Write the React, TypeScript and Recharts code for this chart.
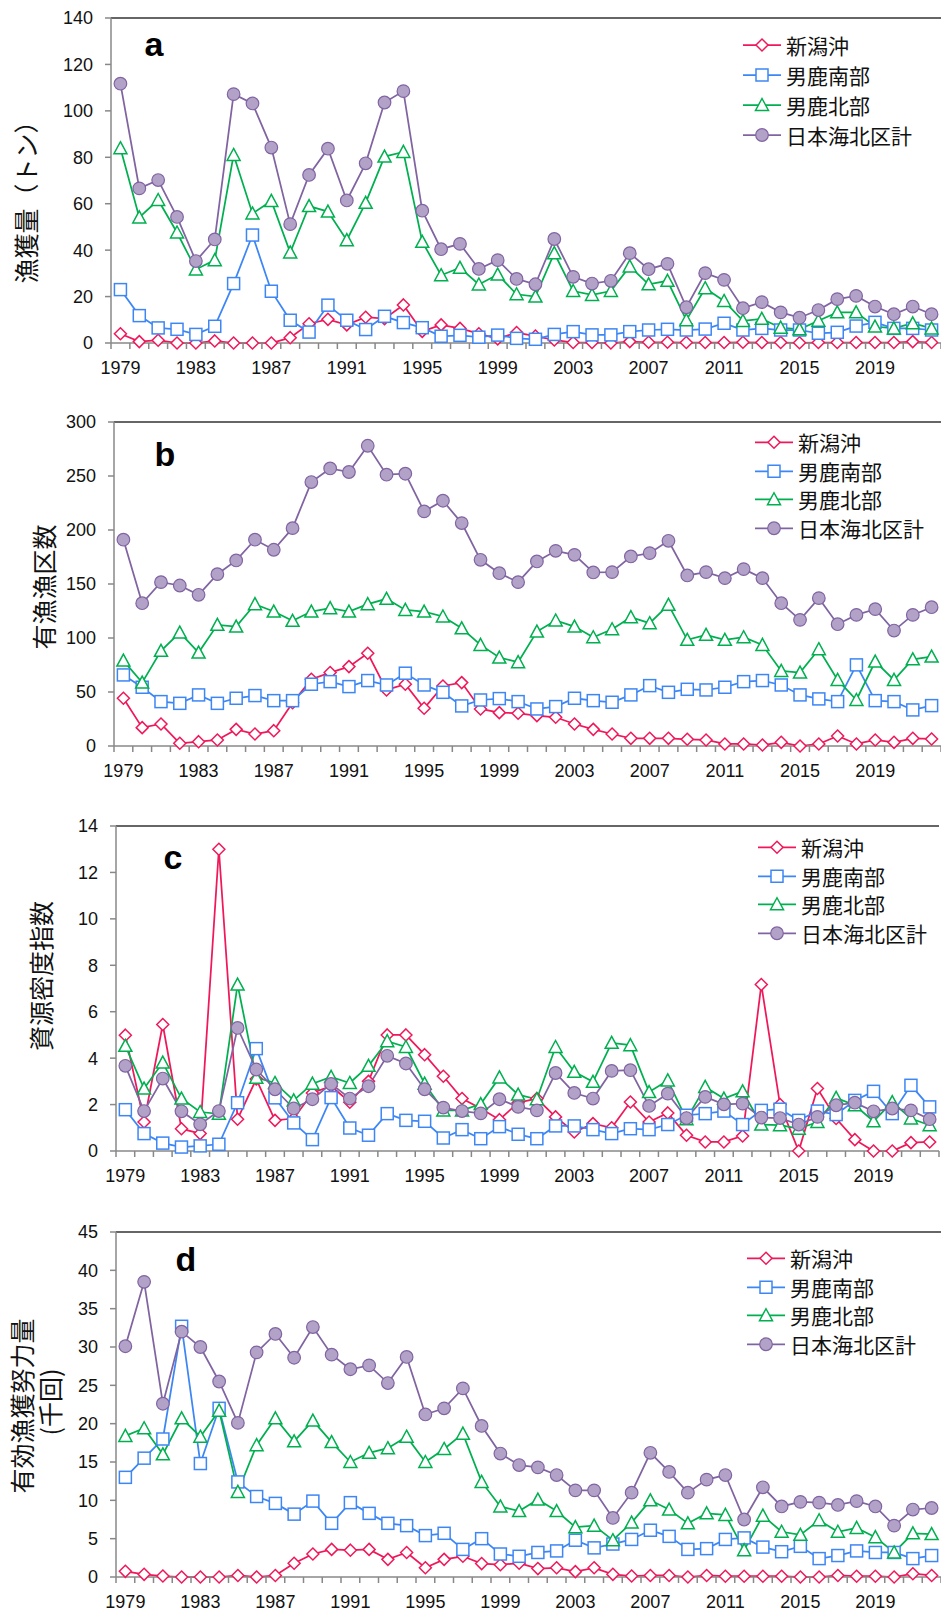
import React from "react";
import { LineChart, Line, XAxis, YAxis, Legend, ReferenceLine } from "recharts";

const YEARS = [
  1979, 1980, 1981, 1982, 1983, 1984, 1985, 1986, 1987, 1988, 1989,
  1990, 1991, 1992, 1993, 1994, 1995, 1996, 1997, 1998, 1999, 2000,
  2001, 2002, 2003, 2004, 2005, 2006, 2007, 2008, 2009, 2010, 2011,
  2012, 2013, 2014, 2015, 2016, 2017, 2018, 2019, 2020, 2021, 2022,
];

// a: 漁獲量（トン）
const catchNiigata = [4.0, 0.6, 1.2, 0, 0, 0.9, 0, 0, 0, 2.3, 8.3, 10.2, 7.8, 11.1, 10.5, 16.4, 5.0, 7.8, 6.3, 4.0, 1.8, 4.5, 3.0, 1.3, 0.2, 0.2, 0, 0.6, 0.3, 0.3, 0.2, 0.2, 0.2, 0.3, 0.2, 0.2, 0.1, 0.2, 0.2, 0.2, 0.2, 0.2, 0.6, 0.2];
const catchOgaSouth = [23.0, 11.8, 6.5, 5.9, 3.7, 7.2, 25.6, 46.5, 22.3, 9.8, 4.7, 16.3, 9.8, 5.8, 11.5, 8.8, 6.6, 2.9, 3.3, 2.5, 3.4, 2.0, 1.6, 3.7, 4.9, 3.5, 3.5, 4.9, 5.6, 5.9, 5.6, 6.0, 8.5, 5.6, 6.3, 5.6, 5.6, 4.2, 4.6, 7.3, 8.9, 6.3, 6.3, 5.6];
const catchOgaNorth = [83.9, 54.1, 61.6, 47.6, 31.7, 35.7, 81.0, 55.8, 61.2, 39.0, 59.0, 56.6, 44.3, 60.4, 80.3, 82.3, 43.6, 29.2, 32.4, 25.2, 29.5, 21.0, 20.0, 38.7, 22.4, 20.7, 22.4, 33.0, 25.3, 26.8, 9.8, 23.6, 18.1, 9.5, 10.4, 6.6, 5.9, 9.6, 13.2, 13.2, 7.1, 6.3, 8.5, 6.3];
const catchTotal = [111.7, 66.6, 70.2, 54.3, 35.3, 44.6, 107.2, 103.2, 84.2, 51.2, 72.4, 83.7, 61.4, 77.4, 103.6, 108.5, 57.0, 40.4, 42.7, 31.9, 35.7, 27.6, 25.3, 44.8, 28.5, 25.6, 26.8, 38.7, 31.8, 34.1, 15.4, 30.1, 27.2, 15.0, 17.6, 13.2, 10.9, 14.2, 18.9, 20.3, 15.7, 12.4, 15.7, 12.4];

// b: 有漁漁区数
const gridNiigata = [44.2, 17.0, 20.4, 2.5, 4.0, 5.6, 15.4, 11.1, 14.2, 40.0, 61.8, 68.0, 73.5, 85.9, 51.9, 57.2, 34.9, 55.6, 58.7, 34.3, 30.9, 30.3, 28.1, 26.6, 20.4, 15.4, 11.1, 7.1, 7.1, 7.1, 6.2, 5.6, 1.9, 1.9, 0.9, 3.4, 0.0, 1.9, 9.3, 1.9, 5.6, 3.4, 7.1, 6.5];
const gridOgaSouth = [65.8, 54.4, 41.1, 39.5, 47.3, 39.5, 44.2, 46.7, 42.0, 42.0, 57.2, 59.6, 55.0, 60.6, 56.5, 67.4, 56.5, 49.7, 37.1, 42.6, 43.9, 41.1, 34.3, 36.5, 44.2, 42.0, 40.5, 47.3, 55.9, 49.7, 52.5, 51.9, 54.4, 59.6, 60.6, 56.5, 47.3, 43.6, 41.1, 75.1, 42.0, 41.1, 33.4, 37.4];
const gridOgaNorth = [79.1, 58.7, 88.1, 105.0, 86.5, 112.2, 110.6, 131.3, 124.5, 115.9, 124.5, 127.6, 124.5, 131.3, 136.3, 126.0, 124.5, 119.9, 109.0, 93.6, 81.9, 77.6, 106.0, 116.2, 110.6, 100.7, 108.1, 119.3, 113.7, 130.7, 98.3, 102.9, 98.3, 100.7, 93.6, 69.5, 68.0, 89.6, 61.2, 42.6, 78.2, 61.2, 80.3, 82.8];
const gridTotal = [191, 132.2, 151.7, 148.6, 140, 159.1, 171.8, 191, 181.7, 201.7, 244.4, 257, 253.7, 278, 251.2, 252.1, 217.2, 227.1, 206.4, 172.4, 160, 151.7, 170.9, 180.7, 177, 160.7, 161, 175.5, 178.6, 190, 157.9, 161, 155.4, 163.8, 155.4, 132.2, 116.8, 136.9, 112.8, 121.4, 126.7, 106.9, 121.4, 128.5];

// c: 資源密度指数
const densNiigata = [4.99, 1.25, 5.45, 0.96, 0.75, 13.0, 1.37, 3.1, 1.32, 1.4, 2.5, 2.8, 2.1, 3.0, 5.0, 5.0, 4.15, 3.22, 2.26, 1.83, 1.35, 2.08, 2.26, 1.47, 0.82, 1.18, 1.0, 2.11, 1.25, 1.64, 0.68, 0.39, 0.39, 0.65, 7.17, 2.0, 0.0, 2.69, 1.4, 0.49, 0.0, 0.0, 0.36, 0.39];
const densOgaSouth = [1.78, 0.75, 0.34, 0.17, 0.22, 0.29, 2.08, 4.41, 2.29, 1.21, 0.49, 2.3, 0.99, 0.68, 1.61, 1.32, 1.28, 0.56, 0.92, 0.53, 1.05, 0.72, 0.53, 1.08, 1.08, 0.92, 0.75, 0.96, 0.92, 1.14, 1.54, 1.61, 1.72, 1.14, 1.75, 1.8, 1.32, 1.72, 1.57, 2.18, 2.57, 1.61, 2.83, 1.9];
const densOgaNorth = [4.53, 2.69, 3.81, 2.26, 1.68, 1.6, 7.17, 3.16, 2.93, 2.18, 2.9, 3.19, 2.93, 3.67, 4.73, 4.48, 2.9, 1.75, 1.75, 2.02, 3.17, 2.43, 2.23, 4.48, 3.41, 2.98, 4.66, 4.56, 2.54, 3.04, 1.37, 2.76, 2.26, 2.57, 1.14, 1.11, 0.96, 1.25, 2.29, 1.97, 1.28, 2.11, 1.4, 1.11];
const densTotal = [3.67, 1.72, 3.12, 1.71, 1.15, 1.72, 5.3, 3.51, 2.66, 1.83, 2.23, 2.89, 2.26, 2.79, 4.1, 3.77, 2.66, 1.87, 1.72, 1.62, 2.23, 1.9, 1.75, 3.36, 2.5, 2.26, 3.45, 3.48, 1.94, 2.47, 1.42, 2.33, 2.01, 2.04, 1.44, 1.42, 1.14, 1.47, 1.97, 2.08, 1.71, 1.83, 1.75, 1.37];

// d: 有効漁獲努力量（千回）
const effNiigata = [0.74, 0.35, 0.13, 0, 0, 0, 0.2, 0, 0.2, 1.8, 3.0, 3.6, 3.5, 3.6, 2.3, 3.2, 1.2, 2.3, 2.7, 1.75, 1.6, 1.8, 1.1, 1.2, 0.7, 1.2, 0.35, 0.13, 0.2, 0.2, 0.0, 0.2, 0.1, 0.1, 0.1, 0.1, 0.0, 0.0, 0.2, 0.1, 0.1, 0.0, 0.43, 0.2];
const effOgaSouth = [13.0, 15.5, 18.0, 32.7, 14.8, 22.0, 12.4, 10.5, 9.6, 8.2, 9.9, 7.0, 9.7, 8.3, 7.0, 6.7, 5.4, 5.7, 3.6, 5.0, 3.0, 2.7, 3.2, 3.4, 4.8, 3.8, 4.3, 4.9, 6.1, 5.3, 3.6, 3.7, 4.9, 5.1, 3.9, 3.3, 4.0, 2.4, 2.8, 3.4, 3.2, 3.2, 2.4, 2.8];
const effOgaNorth = [18.4, 19.4, 16.0, 20.7, 18.3, 21.7, 11.1, 17.2, 20.7, 17.7, 20.4, 17.6, 15.0, 16.2, 16.8, 18.3, 15.0, 16.7, 18.7, 12.4, 9.2, 8.6, 10.1, 8.6, 6.5, 6.7, 4.8, 7.1, 10.0, 8.8, 7.0, 8.3, 8.1, 3.5, 8.0, 5.9, 5.5, 7.4, 5.9, 6.4, 5.2, 3.2, 5.7, 5.6];
const effTotal = [30.1, 38.5, 22.6, 32.0, 30.0, 25.5, 20.1, 29.3, 31.7, 28.6, 32.6, 29.0, 27.1, 27.6, 25.3, 28.7, 21.2, 22.0, 24.6, 19.7, 16.1, 14.6, 14.3, 13.3, 11.3, 11.3, 7.7, 11.0, 16.2, 13.7, 11.0, 12.7, 13.3, 7.5, 11.7, 9.2, 9.8, 9.7, 9.4, 9.9, 9.2, 6.7, 8.8, 9.0];

const SERIES = [
  { key: "niigata", name: "新潟沖", color: "#f0185a", shape: "diamond" },
  { key: "ogaSouth", name: "男鹿南部", color: "#3d86f5", shape: "square" },
  { key: "ogaNorth", name: "男鹿北部", color: "#00b050", shape: "triangle" },
  { key: "total", name: "日本海北区計", color: "#8064a2", shape: "circle" },
];

const LATIN = '"Liberation Sans", Arial, sans-serif';
const CJK = '"Noto Sans CJK JP", "Noto Sans CJK SC", sans-serif';
const AXIS = "#888888";

const rows = (n: number[], s: number[], no: number[], t: number[]) =>
  YEARS.map((year, i) => ({ year, niigata: n[i], ogaSouth: s[i], ogaNorth: no[i], total: t[i] }));

const Marker = ({ shape, cx, cy, color }: any) => {
  if (shape === "diamond")
    return <path d={`M${cx},${cy - 6}L${cx + 6},${cy}L${cx},${cy + 6}L${cx - 6},${cy}Z`} fill="#fff" stroke={color} strokeWidth={1.5} />;
  if (shape === "square")
    return <rect x={cx - 6} y={cy - 6} width={12} height={12} fill="#fff" stroke={color} strokeWidth={1.5} />;
  if (shape === "triangle")
    return <path d={`M${cx},${cy - 6.5}L${cx + 6.5},${cy + 5.5}L${cx - 6.5},${cy + 5.5}Z`} fill="#fff" stroke={color} strokeWidth={1.5} />;
  return <circle cx={cx} cy={cy} r={6.3} fill="#b3a2c7" stroke={color} strokeWidth={1.2} />;
};

const makeYearTick = (band: number) => (props: any) => {
  const { x, y, payload } = props;
  const i = props.index ?? payload.index;
  return (
    <g>
      <line x1={x - band / 2} y1={y} x2={x - band / 2} y2={y + 6} stroke={AXIS} strokeWidth={1.5} />
      {i === YEARS.length - 1 && <line x1={x + band / 2} y1={y} x2={x + band / 2} y2={y + 6} stroke={AXIS} strokeWidth={1.5} />}
      {i % 4 === 0 && (
        <text x={x} y={y + 18} dy="0.71em" textAnchor="middle" fontSize={18} fontFamily={LATIN} fill="#111">
          {payload.value}
        </text>
      )}
    </g>
  );
};

const LegendContent = ({ row }: any) => (
  <div>
    {SERIES.map((s) => (
      <div key={s.key} style={{ display: "flex", alignItems: "center", height: row }}>
        <svg width={38} height={row}>
          <line x1={0} y1={row / 2} x2={38} y2={row / 2} stroke={s.color} strokeWidth={1.75} />
          <Marker shape={s.shape} cx={19} cy={row / 2} color={s.color} />
        </svg>
        <span style={{ marginLeft: 5, fontSize: 21, fontFamily: CJK, lineHeight: `${row}px`, color: "#111", whiteSpace: "nowrap" }}>{s.name}</span>
      </div>
    ))}
  </div>
);

const PANELS = [
  {
    id: "a", top: 0, height: 400, mt: 18, mb: 27, yw: 111, mr: 0, max: 140,
    ticks: [0, 20, 40, 60, 80, 100, 120, 140],
    data: rows(catchNiigata, catchOgaSouth, catchOgaNorth, catchTotal),
    letter: [154, 44], legend: [743, 30, 30],
    titles: [{ text: "漁獲量（トン）", x: 25, y: 196 }],
  },
  {
    id: "b", top: 400, height: 400, mt: 22, mb: 24, yw: 114, mr: 0, max: 300,
    ticks: [0, 50, 100, 150, 200, 250, 300],
    data: rows(gridNiigata, gridOgaSouth, gridOgaNorth, gridTotal),
    letter: [165, 54], legend: [755, 28, 28.5],
    titles: [{ text: "有漁漁区数", x: 43, y: 187 }],
  },
  {
    id: "c", top: 800, height: 400, mt: 26, mb: 19, yw: 116, mr: 2, max: 14,
    ticks: [0, 2, 4, 6, 8, 10, 12, 14],
    data: rows(densNiigata, densOgaSouth, densOgaNorth, densTotal),
    letter: [173, 57], legend: [758, 33, 28.5],
    titles: [{ text: "資源密度指数", x: 40, y: 176 }],
  },
  {
    id: "d", top: 1200, height: 413, mt: 32, mb: 6, yw: 116, mr: 0, max: 45,
    ticks: [0, 5, 10, 15, 20, 25, 30, 35, 40, 45],
    data: rows(effNiigata, effOgaSouth, effOgaNorth, effTotal),
    letter: [186, 59], legend: [747, 44, 28.5],
    titles: [
      { text: "有効漁獲努力量", x: 21, y: 206 },
      { text: "(千回)", x: 49, y: 202 },
    ],
  },
];

const Panel = ({ p }: any) => {
  const band = (941 - p.yw - p.mr) / YEARS.length;
  return (
    <div style={{ position: "absolute", left: 0, top: p.top, width: 941, height: p.height }}>
      <LineChart width={941} height={p.height} data={p.data} margin={{ top: p.mt, right: p.mr, left: 0, bottom: p.mb }}>
        <XAxis
          dataKey="year"
          interval={0}
          height={30}
          padding={{ left: band / 2, right: band / 2 }}
          tickLine={false}
          tickSize={0}
          tickMargin={0}
          axisLine={{ stroke: AXIS, strokeWidth: 1.5 }}
          tick={makeYearTick(band)}
        />
        <YAxis
          width={p.yw}
          domain={[0, p.max]}
          ticks={p.ticks}
          interval={0}
          tickSize={6}
          tickMargin={12}
          axisLine={{ stroke: AXIS, strokeWidth: 1.5 }}
          tickLine={{ stroke: AXIS, strokeWidth: 1.5 }}
          tick={{ fill: "#111", fontSize: 18, fontFamily: LATIN }}
        />
        {p.mr > 0 && (
          <YAxis yAxisId="frame" orientation="right" width={0} domain={[0, 1]} tick={false} tickLine={false} axisLine={{ stroke: "#333", strokeWidth: 1.5 }} />
        )}
        <ReferenceLine y={p.max} stroke="#333" strokeWidth={1.5} />
        {SERIES.map((s) => (
          <Line
            key={s.key}
            type="linear"
            dataKey={s.key}
            name={s.name}
            stroke={s.color}
            strokeWidth={1.75}
            isAnimationActive={false}
            activeDot={false}
            dot={(d: any) =>
              d.cx == null ? <g key={d.index} /> : <Marker key={d.index} shape={s.shape} cx={d.cx} cy={d.cy} color={s.color} />
            }
          />
        ))}
        <Legend
          layout="vertical"
          align="center"
          verticalAlign="middle"
          wrapperStyle={{ left: p.legend[0], top: p.legend[1], width: 190 }}
          content={() => <LegendContent row={p.legend[2]} />}
        />
      </LineChart>
      <div
        style={{
          position: "absolute", left: p.letter[0], top: p.letter[1], transform: "translate(-50%, -50%)",
          fontFamily: LATIN, fontWeight: "bold", fontSize: 34, lineHeight: 1, color: "#000",
        }}
      >
        {p.id}
      </div>
      {p.titles.map((t: any) => (
        <div
          key={t.text}
          style={{
            position: "absolute", left: t.x, top: t.y, transform: "translate(-50%, -50%) rotate(-90deg)",
            fontFamily: CJK, fontSize: 25, lineHeight: 1, whiteSpace: "nowrap", color: "#111",
          }}
        >
          {t.text}
        </div>
      ))}
    </div>
  );
};

export default function App() {
  return (
    <div style={{ position: "absolute", left: 0, top: 0, width: 941, height: 1614, overflow: "hidden", background: "#fff" }}>
      {PANELS.map((p) => (
        <Panel key={p.id} p={p} />
      ))}
    </div>
  );
}
